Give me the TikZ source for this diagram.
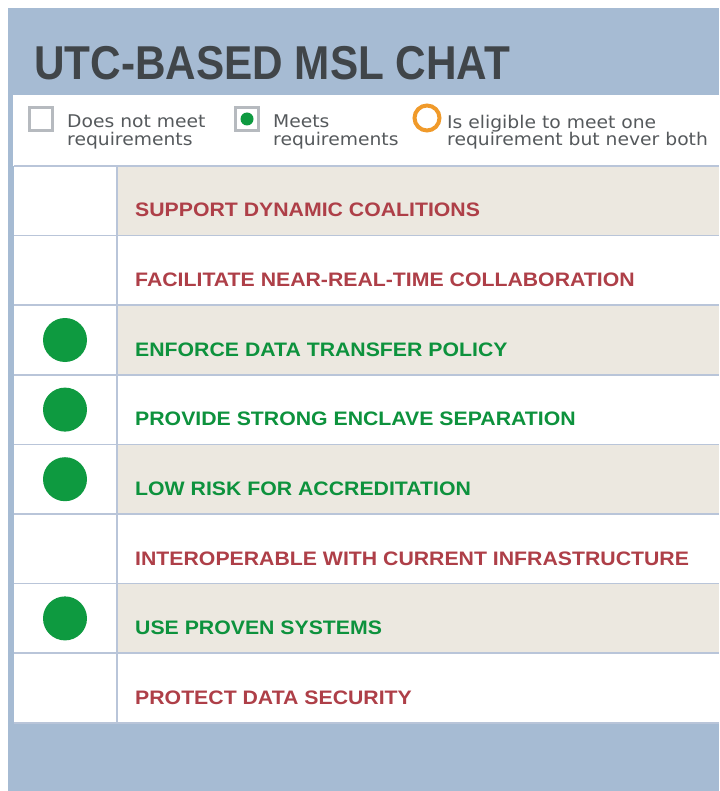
\documentclass[tikz,border=0pt]{standalone}
\usepackage{fontspec}
\newfontfamily\headfont[FakeStretch=0.89]{Liberation Sans}
\newfontfamily\rowfont[FakeStretch=1.09]{Liberation Sans}
\newfontfamily\keyfont[FakeStretch=1.07]{DejaVu Sans}
\definecolor{panelblue}{HTML}{A6BBD3}
\definecolor{titlegray}{HTML}{404549}
\definecolor{keygray}{HTML}{55595C}
\definecolor{boxgray}{HTML}{B6BABF}
\definecolor{gridblue}{HTML}{B9C5D9}
\definecolor{rowbeige}{HTML}{ECE8E0}
\definecolor{metgreen}{HTML}{0E9A40}
\definecolor{eligorange}{HTML}{F09A2A}
\definecolor{failred}{HTML}{AE3F48}
\begin{document}
\begin{tikzpicture}
[x=1pt,y=-1pt,
keybox/.style={rectangle,draw=boxgray,line width=3pt,fill=white,minimum size=23pt,inner sep=0pt},
keytext/.style={anchor=north west,inner sep=0pt,align=left,text=keygray,font=\keyfont\fontsize{17.5}{17.5}\selectfont},
dot/.style={circle,fill=metgreen,minimum size=44pt,inner sep=0pt},
req/.style={anchor=base west,inner sep=0pt,font=\rowfont\bfseries\fontsize{19.5}{20}\selectfont},
nomet/.style={req,text=failred},
met/.style={req,text=metgreen!95!black}
]
\useasboundingbox (0,0) rectangle (719,791);
% panel, key band and table
\fill[panelblue] (8,8) rectangle (719,791);
\fill[white] (13,95) rectangle (719,166);
\fill[white] (14,166) rectangle (719,723);
\fill[rowbeige] (117,166) rectangle (719,235.6);
\fill[rowbeige] (117,305.2) rectangle (719,374.8);
\fill[rowbeige] (117,444.4) rectangle (719,514);
\fill[rowbeige] (117,583.6) rectangle (719,653.2);
\draw[gridblue,line width=1.5pt] (14,166) -- (719,166);
\draw[gridblue,line width=1.5pt] (14,235.6) -- (719,235.6);
\draw[gridblue,line width=1.5pt] (14,305.2) -- (719,305.2);
\draw[gridblue,line width=1.5pt] (14,374.8) -- (719,374.8);
\draw[gridblue,line width=1.5pt] (14,444.4) -- (719,444.4);
\draw[gridblue,line width=1.5pt] (14,514) -- (719,514);
\draw[gridblue,line width=1.5pt] (14,583.6) -- (719,583.6);
\draw[gridblue,line width=1.5pt] (14,653.2) -- (719,653.2);
\draw[gridblue,line width=1.5pt] (14,722.8) -- (719,722.8);
\draw[gridblue,line width=1.5pt] (117,166) -- (117,722.8);

% title
\node[anchor=base west,inner sep=0pt,text=titlegray,font=\headfont\bfseries\fontsize{47.5}{50}\selectfont] (title) at (34,80){UTC-BASED MSL CHAT};

% key
\node[keybox] (nobox) at (41,119){};
\node[keytext] (notext) at (67,115){Does not meet\\requirements};
\node[keybox] (metbox) at (247,119){};
\node[circle,fill=metgreen,minimum size=13pt,inner sep=0pt] (metdot) at (247,119){};
\node[keytext] (mettext) at (273,115){Meets\\requirements};
\node[circle,draw=eligorange,line width=4pt,minimum size=25pt,inner sep=0pt] (eligring) at (427,118){};
\node[keytext] (eligtext) at (447,115){Is eligible to meet one\\requirement but never both};

% requirements
\node[nomet] (dyn) at (135,217){SUPPORT DYNAMIC COALITIONS};
\node[nomet] (collab) at (135,286.6){FACILITATE NEAR-REAL-TIME COLLABORATION};
\node[dot] (dotpolicy) at (65,340){};
\node[met] (policy) at (135,356.2){ENFORCE DATA TRANSFER POLICY};
\node[dot] (dotenclave) at (65,409.6){};
\node[met] (enclave) at (135,425.8){PROVIDE STRONG ENCLAVE SEPARATION};
\node[dot] (dotaccred) at (65,479.2){};
\node[met] (accred) at (135,495.4){LOW RISK FOR ACCREDITATION};
\node[nomet] (interop) at (135,565){INTEROPERABLE WITH CURRENT INFRASTRUCTURE};
\node[dot] (dotproven) at (65,618.4){};
\node[met] (proven) at (135,634.6){USE PROVEN SYSTEMS};
\node[nomet] (security) at (135,704.2){PROTECT DATA SECURITY};
\end{tikzpicture}
\end{document}
